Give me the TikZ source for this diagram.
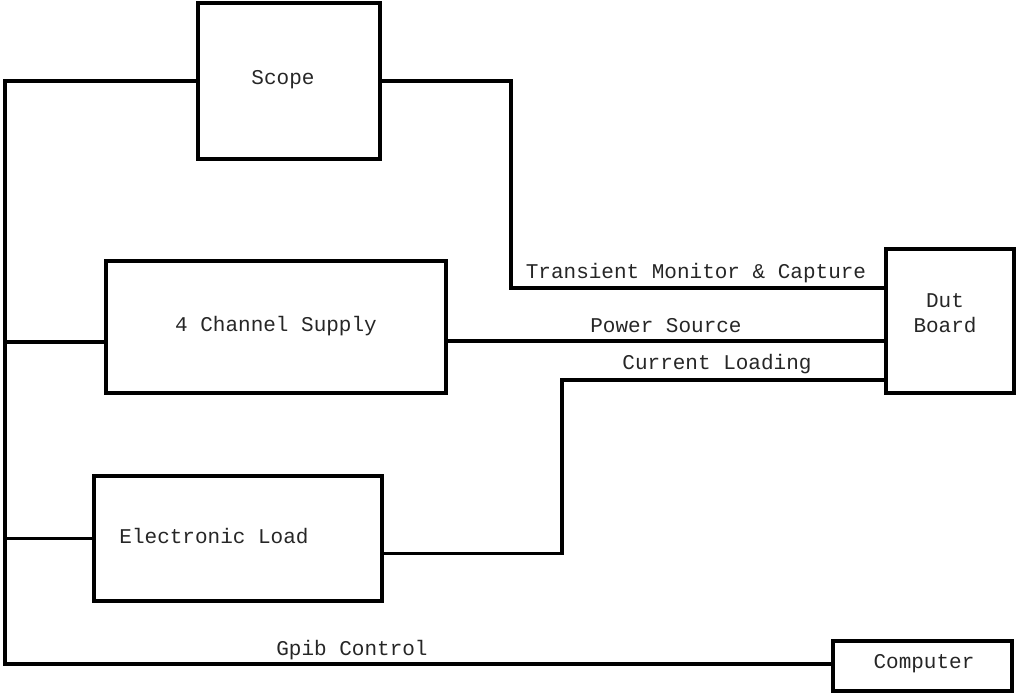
\documentclass[tikz,border=0pt]{standalone}
\usepackage{fontspec}
\setmainfont{Liberation Mono}
\begin{document}
\begin{tikzpicture}[x=1pt,y=-1pt,
  box/.style={draw=black,line width=3.3pt,inner sep=0pt,outer sep=0pt,line join=miter},
  wire/.style={draw=black,line width=3.3pt,line join=miter},
  txt/.style={inner sep=0pt,text=black!85,font=\fontsize{21}{25}\selectfont},
]
\useasboundingbox (0,0) rectangle (1018,694);
% boxes
\node[box,minimum width=182pt,minimum height=156pt] (scope) at (289,81) {};
\node[box,minimum width=340pt,minimum height=132pt] (supply) at (276,327) {};
\node[box,minimum width=288pt,minimum height=125pt] (eload) at (238,538.5) {};
\node[box,minimum width=128pt,minimum height=144pt] (dut) at (950,321) {};
\node[box,minimum width=179pt,minimum height=50pt] (comp) at (922.5,666) {};
% box texts
\node[txt] (scopet) at (283,80) {Scope};
\node[txt] (supplyt) at (276,326) {4 Channel Supply};
\node[txt] (eloadt) at (214,536) {Electronic Load};
\node[txt,align=center] (dutt) at (945,313.5) {Dut\\Board};
\node[txt] (compt) at (924,664) {Computer};
% wire labels
\node[txt] (ltrans) at (696,273) {Transient Monitor \& Capture};
\node[txt] (lpower) at (666,326) {Power Source};
\node[txt] (lcurr) at (717,364) {Current Loading};
\node[txt] (lgpib) at (352,650) {Gpib Control};
% coordinates
\coordinate (bustop) at (5,81);
\coordinate (busbot) at (5,664);
\coordinate (ysup) at (0,342);
\coordinate (ypow) at (0,341);
\coordinate (ytr) at (0,288);
\coordinate (ycur) at (0,380);
\coordinate (yel) at (0,553.5);
\coordinate (xtr) at (511,0);
\coordinate (xcur) at (562,0);
% bus
\draw[wire] (scope.west) -- (bustop) -- (busbot) -- (busbot -| comp.west);
\draw[wire] (bustop |- ysup) -- (supply.west |- ysup);
\draw[wire] (bustop |- eload.west) -- (eload.west);
% scope to dut
\draw[wire] (scope.east) -- (xtr |- scope.east) -- (xtr |- ytr) -- (dut.west |- ytr);
% supply to dut
\draw[wire] (supply.east |- ypow) -- (dut.west |- ypow);
% eload to dut
\draw[wire] (eload.east |- yel) -- (xcur |- yel) -- (xcur |- ycur) -- (dut.west |- ycur);
\end{tikzpicture}
\end{document}
